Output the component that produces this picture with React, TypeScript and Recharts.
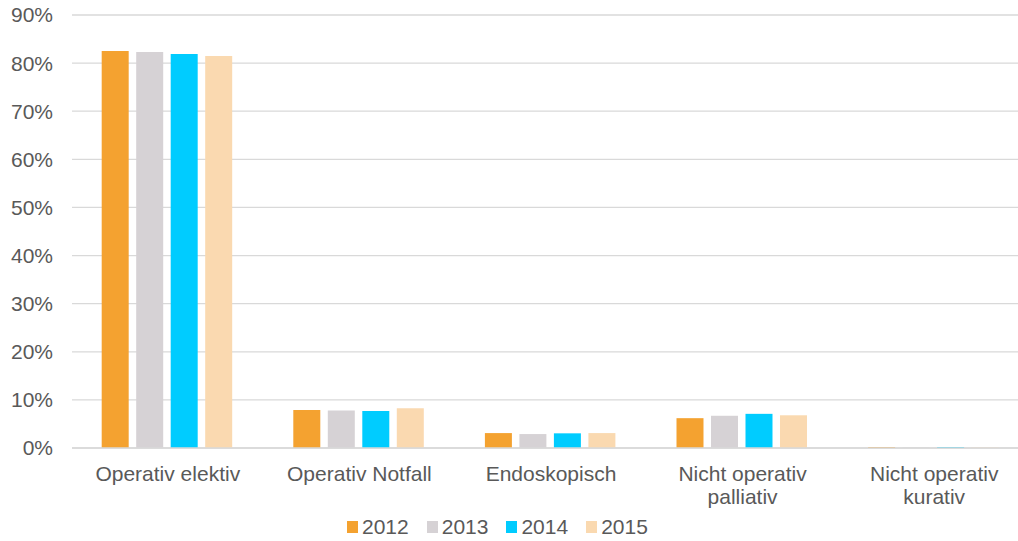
import React from 'react';
import { BarChart, Bar, XAxis, YAxis, CartesianGrid, Legend } from 'recharts';

const categories = ['Operativ elektiv', 'Operativ Notfall', 'Endoskopisch', 'Nicht operativ palliativ', 'Nicht operativ kurativ'];
const categoryLines = [['Operativ elektiv'], ['Operativ Notfall'], ['Endoskopisch'], ['Nicht operativ', 'palliativ'], ['Nicht operativ', 'kurativ']];
const years = ['2012', '2013', '2014', '2015'];
const values2012 = [82.5, 7.9, 3.1, 6.2, 0.2];
const values2013 = [82.3, 7.8, 2.9, 6.7, 0.1];
const values2014 = [81.9, 7.7, 3.05, 7.1, 0.2];
const values2015 = [81.5, 8.25, 3.1, 6.8, 0.1];
const yTicks = [0, 10, 20, 30, 40, 50, 60, 70, 80, 90];

const COLORS = ['#F4A230', '#D6D2D5', '#00CCFF', '#FAD9B0'];
const FONT = '"Liberation Sans", Arial, sans-serif';

const data = categories.map((name, i) => ({
  name,
  '2012': values2012[i],
  '2013': values2013[i],
  '2014': values2014[i],
  '2015': values2015[i],
}));

const CategoryTick = (props: any) => {
  const { x, y, payload } = props;
  const idx = categories.indexOf(payload.value);
  const lines = idx >= 0 ? categoryLines[idx] : [payload.value];
  return (
    <text x={x} y={y} textAnchor="middle" fill="#595959" fontSize={21} fontFamily={FONT}>
      {lines.map((line, i) => (
        <tspan key={i} x={x} y={y + 25 + i * 23}>{line}</tspan>
      ))}
    </text>
  );
};

const LegendContent = () => (
  <div style={{ display: 'flex', alignItems: 'center', fontFamily: FONT, fontSize: 21, color: '#595959' }}>
    {years.map((yr, i) => (
      <div key={yr} style={{ display: 'flex', alignItems: 'center', marginRight: 18 }}>
        <span style={{ display: 'inline-block', width: 11, height: 12, background: COLORS[i], marginRight: 4 }} />
        <span style={{ lineHeight: '24px' }}>{yr}</span>
      </div>
    ))}
  </div>
);

export default function App() {
  return (
    <div style={{ position: 'absolute', left: 0, top: 0, width: 1018, height: 541, overflow: 'hidden', background: '#fff' }}>
      <BarChart
        width={1030}
        height={541}
        data={data}
        margin={{ top: 15, right: 0, bottom: 0, left: 0 }}
        barCategoryGap="15.5%"
        barGap={7.5}
      >
        <CartesianGrid vertical={false} stroke="#D9D9D9" strokeWidth={1.3} />
        <XAxis
          dataKey="name"
          tickLine={false}
          axisLine={{ stroke: '#D9D9D9', strokeWidth: 1.3 }}
          height={69}
          tick={<CategoryTick />}
          interval={0}
        />
        <YAxis
          domain={[0, 90]}
          ticks={yTicks}
          tickFormatter={(v: number) => `${v}%`}
          axisLine={false}
          tickLine={false}
          tickSize={0}
          tickMargin={19}
          width={72}
          tick={{ fill: '#595959', fontSize: 21, fontFamily: FONT }}
        />
        <Legend
          verticalAlign="bottom"
          content={<LegendContent />}
          wrapperStyle={{ left: 347, width: 'auto', bottom: 2 }}
        />
        {years.map((yr, i) => (
          <Bar key={yr} dataKey={yr} fill={COLORS[i]} isAnimationActive={false} />
        ))}
      </BarChart>
    </div>
  );
}
